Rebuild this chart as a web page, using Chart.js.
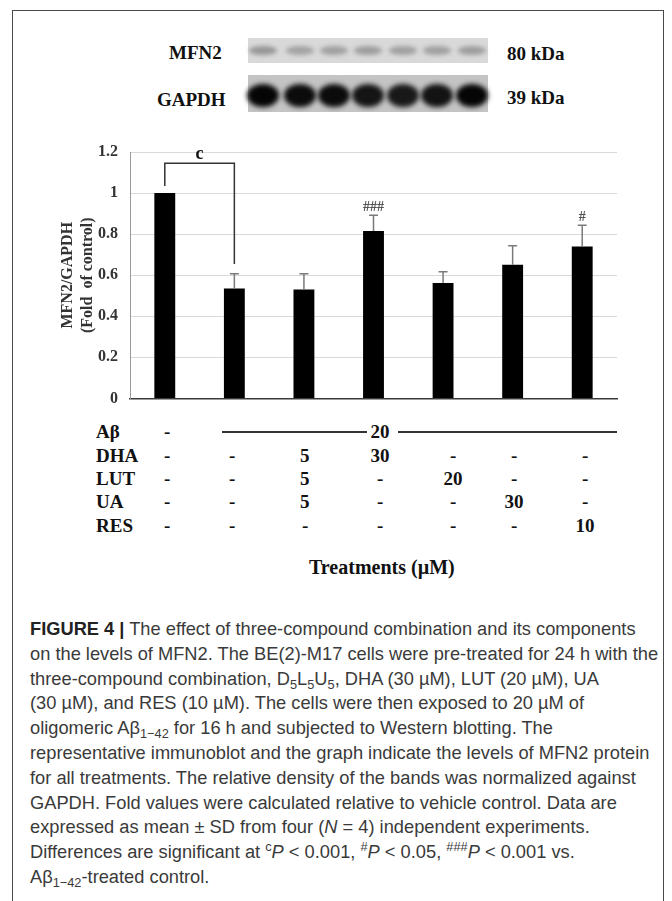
<!DOCTYPE html>
<html><head><meta charset="utf-8">
<script src="https://cdn.jsdelivr.net/npm/chart.js@4.4.1/dist/chart.umd.min.js"></script>
<style>
html,body{margin:0;padding:0;background:#fff;width:672px;height:901px;overflow:hidden;position:relative;}
#frame{position:absolute;left:12px;top:10px;width:652px;height:920px;border:1.5px solid #4a4a4a;box-sizing:border-box;}
.serif{font-family:"Liberation Serif","DejaVu Serif",serif;font-weight:bold;color:#111;position:absolute;white-space:nowrap;line-height:1;}
.strip{position:absolute;}
.band{position:absolute;border-radius:50%;}
#chartBox{position:absolute;left:0;top:130px;width:672px;height:290px;}
.cap{position:absolute;left:30px;white-space:nowrap;font-family:"Liberation Sans",Arial,sans-serif;color:#3a3a3a;line-height:24px;height:24px;}
.cap sub,.cap sup{font-size:70%;line-height:0;}
.cap sub{vertical-align:-0.3em;}
.cap sup{vertical-align:0.55em;}
</style></head>
<body>
<div id="frame"></div>
<div id="blot"></div>
<div id="chartBox"><canvas id="c" width="672" height="290"></canvas></div>
<div id="table"></div>
<div id="caption"></div>
<script>
// ---------- data ----------
const categories = ['Control', 'Aβ', 'D5L5U5', 'DHA', 'LUT', 'UA', 'RES'];
const meanValues = [1.00, 0.535, 0.53, 0.815, 0.562, 0.651, 0.74];
const sdValues   = [0.0, 0.072, 0.077, 0.077, 0.055, 0.093, 0.103];
const sigLabels  = ['', '', '', '###', '', '', '#'];
const yTickLabels = ['0', '0.2', '0.4', '0.6', '0.8', '1', '1.2'];
const yTitleLines = ['MFN2/GAPDH', '(Fold  of control)'];
const rowNames = ['Aβ', 'DHA', 'LUT', 'UA', 'RES'];
const abDose  = ['-', '20'];
const dhaDose = ['-', '-', '5', '30', '-', '-', '-'];
const lutDose = ['-', '-', '5', '-', '20', '-', '-'];
const uaDose  = ['-', '-', '5', '-', '-', '30', '-'];
const resDose = ['-', '-', '-', '-', '-', '-', '10'];
const blotProteins = ['MFN2', 'GAPDH'];
const blotSizes = ['80 kDa', '39 kDa'];
const mfn2Intensity  = [0.62, 0.50, 0.52, 0.55, 0.52, 0.52, 0.55];
const gapdhIntensity = [1.0, 0.97, 0.97, 0.92, 0.90, 0.93, 1.0];
const bracketLabel = 'c';
const xTitle = 'Treatments (\u00b5M)';

// ---------- layout constants ----------
const colX = [167, 232, 305, 380, 453, 514, 585];
const rowY = [432, 456, 479, 502, 526];
const laneX = [263, 300, 334, 368, 403, 437, 472];

// ---------- blot ----------
const blot = document.getElementById('blot');
function add(parent, cls, style, html) {
  const d = document.createElement('div');
  d.className = cls; Object.assign(d.style, style);
  if (html !== undefined) d.innerHTML = html;
  parent.appendChild(d); return d;
}
add(blot, 'strip', {left:'248px', top:'38px', width:'240px', height:'25px', background:'#d9d9d9'});
add(blot, 'strip', {left:'248px', top:'75px', width:'240px', height:'37px', background:'#c4c4c4'});
laneX.forEach((x, i) => {
  const a = mfn2Intensity[i];
  add(blot, 'band', {left:(x-14)+'px', top:'46px', width:'28px', height:'9px',
    background:`rgba(110,110,110,${a})`, filter:'blur(2px)'});
  const g = gapdhIntensity[i];
  add(blot, 'band', {left:(x-16)+'px', top:'84px', width:'32px', height:'23px',
    background:`rgba(5,5,5,${g})`, filter:'blur(2.5px)'});
});
const lblM = add(blot, 'serif', {fontSize:'19px', top:'43px'}, blotProteins[0]);
const lblG = add(blot, 'serif', {fontSize:'19px', top:'90px'}, blotProteins[1]);
lblM.style.left = (222 - lblM.offsetWidth) + 'px';
lblG.style.left = (226 - lblG.offsetWidth) + 'px';
add(blot, 'serif', {fontSize:'19px', top:'44px', left:'507px'}, blotSizes[0]);
add(blot, 'serif', {fontSize:'19px', top:'88px', left:'507px'}, blotSizes[1]);

// ---------- chart ----------
const annot = {
  id: 'annot',
  afterDatasetsDraw(chart) {
    const ctx = chart.ctx, ys = chart.scales.y, meta = chart.getDatasetMeta(0);
    ctx.save();
    // error bars
    ctx.strokeStyle = '#7a7a7a'; ctx.lineWidth = 1.5;
    meanValues.forEach((m, i) => {
      if (!sdValues[i]) return;
      const x = meta.data[i].x, y0 = ys.getPixelForValue(m), y1 = ys.getPixelForValue(m + sdValues[i]);
      ctx.beginPath(); ctx.moveTo(x, y0); ctx.lineTo(x, y1);
      ctx.moveTo(x - 4.5, y1); ctx.lineTo(x + 4.5, y1); ctx.stroke();
    });
    // significance marks
    ctx.fillStyle = '#555'; ctx.font = 'bold 14px "Liberation Serif"'; ctx.textAlign = 'center'; ctx.textBaseline = 'alphabetic';
    sigLabels.forEach((s, i) => {
      if (!s) return;
      const x = meta.data[i].x, y1 = ys.getPixelForValue(meanValues[i] + sdValues[i]);
      ctx.fillText(s, x, y1 - 4);
    });
    // bracket between control and Aβ
    const xa = meta.data[0].x, xb = meta.data[1].x;
    const yTop = ys.getPixelForValue(meanValues[0] + 0.145);
    const yA = ys.getPixelForValue(meanValues[0] + 0.035);
    const yB = ys.getPixelForValue(meanValues[1] + sdValues[1] + 0.048);
    ctx.strokeStyle = '#333'; ctx.lineWidth = 1.5;
    ctx.beginPath(); ctx.moveTo(xa, yA); ctx.lineTo(xa, yTop); ctx.lineTo(xb, yTop); ctx.lineTo(xb, yB); ctx.stroke();
    ctx.fillStyle = '#111'; ctx.font = 'bold 18px "Liberation Serif"';
    ctx.fillText(bracketLabel, (xa + xb) / 2, yTop - 4);
    ctx.restore();
  }
};

new Chart(document.getElementById('c'), {
  type: 'bar',
  data: {
    labels: categories,
    datasets: [{ data: meanValues, backgroundColor: '#000', borderWidth: 0,
      barPercentage: 0.3, categoryPercentage: 1.0 }]
  },
  options: {
    responsive: false, animation: false, devicePixelRatio: 1,
    layout: { padding: { left: 0, top: 22, right: 55, bottom: 16 } },
    plugins: { legend: { display: false }, tooltip: { enabled: false } },
    scales: {
      x: {
        ticks: { display: false },
        grid: { display: false, drawTicks: false },
        border: { display: true, color: '#3a3a3a', width: 1.5 },
        afterFit: s => { s.height = 0; }
      },
      y: {
        min: 0, max: 1.2,
        ticks: { stepSize: 0.2, padding: 12, color: '#333',
          font: { family: 'Liberation Serif', weight: 'bold', size: 16 },
          callback: (v, i) => yTickLabels[i] },
        grid: { color: '#d9d9d9', lineWidth: 1, drawTicks: false },
        border: { display: true, color: '#9a9a9a', width: 1 },
        title: { display: true, text: yTitleLines, color: '#333',
          font: { family: 'Liberation Serif', weight: 'bold', size: 16, lineHeight: 1.25 },
          padding: { top: 58, bottom: 0 } },
        afterFit: s => { s.width = 130; }
      }
    }
  },
  plugins: [annot]
});

// ---------- treatment table ----------
const table = document.getElementById('table');
function cell(txt, cx, cy, size) {
  const d = add(table, 'serif', {fontSize: (size || 19) + 'px', top: (cy - 10) + 'px'}, txt);
  d.style.left = (cx - d.offsetWidth / 2) + 'px';
  return d;
}
rowNames.forEach((r, i) => add(table, 'serif', {fontSize:'19px', left:'96px', top:(rowY[i] - 10) + 'px'}, r));
cell(abDose[0], colX[0], rowY[0]);
cell(abDose[1], colX[3], rowY[0]);
add(table, 'strip', {left:'222px', top:(rowY[0]-1)+'px', width:(colX[3]-13-222)+'px', height:'1.5px', background:'#333'});
add(table, 'strip', {left:(colX[3]+18)+'px', top:(rowY[0]-1)+'px', width:(617-colX[3]-18)+'px', height:'1.5px', background:'#333'});
[dhaDose, lutDose, uaDose, resDose].forEach((row, r) => row.forEach((v, c) => cell(v, colX[c], rowY[r + 1])));
cell(xTitle, 382, 567, 20);

// ---------- caption ----------
const captionLines = [
  '<b style="color:#222">FIGURE 4 |</b> The effect of three-compound combination and its components',
  'on the levels of MFN2. The BE(2)-M17 cells were pre-treated for 24 h with the',
  'three-compound combination, D<sub>5</sub>L<sub>5</sub>U<sub>5</sub>, DHA (30 \u00b5M), LUT (20 \u00b5M), UA',
  '(30 \u00b5M), and RES (10 \u00b5M). The cells were then exposed to 20 \u00b5M of',
  'oligomeric A\u03b2<sub>1\u221242</sub> for 16 h and subjected to Western blotting. The',
  'representative immunoblot and the graph indicate the levels of MFN2 protein',
  'for all treatments. The relative density of the bands was normalized against',
  'GAPDH. Fold values were calculated relative to vehicle control. Data are',
  'expressed as mean \u00b1 SD from four (<i>N</i> = 4) independent experiments.',
  'Differences are significant at <sup>c</sup><i>P</i> &lt; 0.001, <sup>#</sup><i>P</i> &lt; 0.05, <sup>###</sup><i>P</i> &lt; 0.001 vs.',
  'A\u03b2<sub>1\u221242</sub>-treated control.'
];
const cap = document.getElementById('caption');
const capDivs = captionLines.map((h, i) => add(cap, 'cap', {top: (629 + 24.8 * i - 12) + 'px', fontSize: '16px'}, h));
const w = capDivs[1].offsetWidth;
const fs = 16 * 628 / w;
capDivs.forEach(d => d.style.fontSize = fs.toFixed(2) + 'px');
</script>
</body></html>
